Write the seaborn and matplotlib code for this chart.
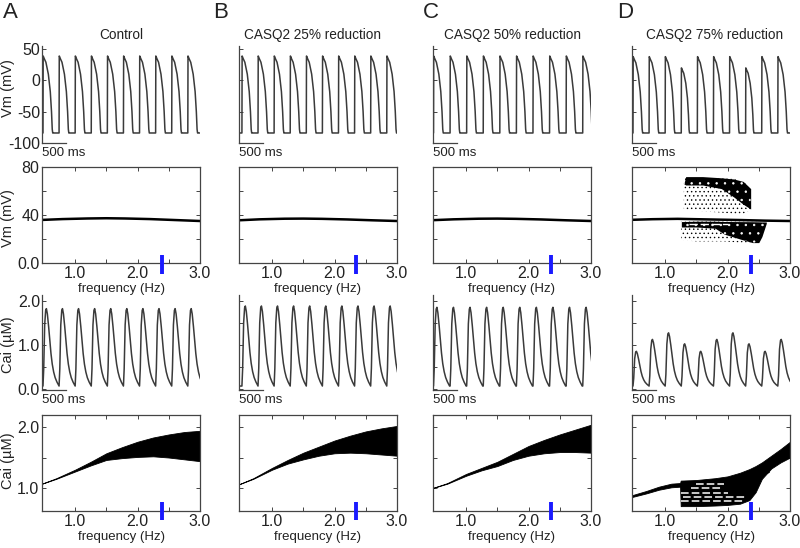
import numpy as np
import matplotlib
matplotlib.use("Agg")
import matplotlib.pyplot as plt
import seaborn as sns

# ---- data ----
col_titles = ["Control", "CASQ2 25% reduction", "CASQ2 50% reduction", "CASQ2 75% reduction"]
panel_letters = ["A", "B", "C", "D"]

# single-beat templates (ms from upstroke)
ap_t = [0, 4, 10, 25, 60, 110, 150, 175, 190, 200, 212]
ap_v = [-84, 39, 38, 35, 29, 10, -18, -50, -78, -84, -84]
ap_rest = -84
ca_t = [0, 15, 35, 55, 70, 90, 116, 140, 164, 190, 219, 250, 287, 330]
ca_v = [0.06, 0.45, 1.45, 1.78, 1.82, 1.70, 1.41, 1.10, 0.80, 0.56, 0.38, 0.25, 0.15, 0.06]
ca_rest = 0.06

# per-column pacing (ms): first upstroke, cycle length
beat_offset = [20, 60, 10, 20]
cycle_len = [330, 330, 340, 330]
trace_end = 3240

vm_peaks = [
    [39, 39, 39, 39, 39, 39, 39, 39, 39, 39],
    [39, 39, 39, 39, 39, 39, 39, 39, 39, 39],
    [39, 39, 39, 39, 39, 39, 39, 39, 39, 39],
    [38, 38, 38, 20, 38, 38, 38, 20, 38, 38],
]
cai_peaks = [
    [1.82, 1.82, 1.82, 1.82, 1.82, 1.82, 1.82, 1.82, 1.82, 1.82],
    [1.88, 1.88, 1.88, 1.88, 1.88, 1.88, 1.88, 1.88, 1.88, 1.88],
    [1.85, 1.85, 1.85, 1.85, 1.85, 1.85, 1.85, 1.85, 1.85, 1.85],
    [0.85, 1.12, 1.27, 1.02, 0.85, 1.12, 1.27, 1.02, 0.85, 1.12],
]

# bifurcation diagrams: Vm peak vs pacing frequency
vm_freq = [0.47, 0.8, 1.2, 1.5, 1.8, 2.2, 2.6, 3.0]
vm_bif = [
    [35.9, 36.6, 37.1, 37.3, 37.1, 36.6, 35.8, 35.0],
    [35.6, 36.4, 36.9, 37.0, 36.8, 36.3, 35.6, 35.0],
    [35.7, 36.4, 36.9, 37.0, 36.8, 36.3, 35.6, 35.0],
    [36.0, 36.5, 36.8, 36.5, 36.2, 35.8, 35.3, 35.0],
]
# CASQ2 75%: scattered Vm peaks above / below the main branch
cloud_up_f = [1.30, 1.33, 1.6, 1.9, 2.1, 2.25, 2.37]
cloud_up_top = [66, 72, 72, 71, 70, 68, 62]
cloud_up_dense = [66, 65, 65, 62, 55, 49, 45]
cloud_up_sparse = [44, 44, 43, 42, 41, 41, 44]
cloud_lo_f = [1.26, 1.5, 1.8, 1.95, 2.2, 2.4, 2.5, 2.55, 2.62]
cloud_lo_top = [34.5, 34.8, 34.8, 34.6, 34.5, 34.4, 34.3, 34.2, 34.2]
cloud_lo_dense = [30, 30, 29, 24, 20, 17, 17, 22, 33]
cloud_lo_sparse = [19, 18, 18, 18, 17, 17, 17, 22, 33]
vm_gap_f = [1.38, 2.01]
vm_gap_v = [32.5, 32.5]

# bifurcation diagrams: Cai peak vs pacing frequency (band edges)
cai_freq = [0.47, 0.7, 1.0, 1.25, 1.5, 1.75, 2.0, 2.25, 2.5, 2.75, 3.0]
cai_hi = [
    [1.07, 1.16, 1.30, 1.43, 1.57, 1.67, 1.76, 1.83, 1.88, 1.92, 1.94],
    [1.06, 1.16, 1.33, 1.46, 1.58, 1.68, 1.78, 1.86, 1.93, 1.98, 2.02],
    [1.00, 1.08, 1.23, 1.33, 1.43, 1.56, 1.69, 1.79, 1.88, 1.96, 2.04],
]
cai_lo = [
    [1.07, 1.15, 1.27, 1.37, 1.46, 1.49, 1.51, 1.52, 1.50, 1.47, 1.44],
    [1.06, 1.15, 1.30, 1.40, 1.47, 1.53, 1.57, 1.58, 1.57, 1.55, 1.53],
    [1.00, 1.07, 1.20, 1.29, 1.36, 1.46, 1.53, 1.57, 1.59, 1.59, 1.58],
]
cai_d_f = [0.47, 0.7, 0.9, 1.1, 1.24, 1.25, 1.5, 1.8, 2.0, 2.2, 2.35, 2.45, 2.55, 2.7, 2.85, 3.0]
cai_d_hi = [0.88, 0.95, 1.02, 1.07, 1.08, 1.12, 1.13, 1.16, 1.19, 1.25, 1.31, 1.36, 1.42, 1.53, 1.64, 1.76]
cai_d_lo = [0.85, 0.91, 0.97, 1.01, 1.02, 0.70, 0.70, 0.71, 0.72, 0.74, 0.80, 0.93, 1.15, 1.32, 1.42, 1.50]
# white gaps between branches inside the CASQ2 75% band
gap_f = [[1.41, 1.89], [1.26, 2.0], [1.29, 2.3], [1.26, 2.25], [1.5, 1.95]]
gap_v = [1.005, 0.92, 0.845, 0.79, 1.06]
tongue_f = [2.45, 2.66]
tongue_v = [1.22, 1.26]

# pacing rate marker (blue tick)
pace_freq = [2.39, 2.34, 2.36, 2.37]
pace_vm = [-9, 7]
pace_cai = [0.48, 0.76]

# ---- layout (pixels of the 800x548 figure) ----
W, H = 800, 548
col_left = [42, 239, 433, 632]
col_w = 158
row_top = [46, 167, 295, 415]
row_bot = [143, 263, 390, 511]
title_x = [121, 312, 512, 715]
letter_x = [3, 213, 423, 617]

TXT = "#222222"
LINE = "#3a3a3a"
BLUE = "#1a1aff"
TICK_FS = 11.5
LAB_FS = 9.5


def build_trace(tmpl_t, tmpl_v, rest, offset, cycle, peaks, peak_ref, scale_time):
    t, v = [0.0], [rest]
    for i, pk in enumerate(peaks):
        s = (pk - rest) / (peak_ref - rest)
        st = s if scale_time else 1.0
        start = offset + i * cycle
        for tt, vv in zip(tmpl_t, tmpl_v):
            t.append(start + tt * st)
            v.append(rest + (vv - rest) * s)
    t.append(offset + len(peaks) * cycle + cycle)
    v.append(rest)
    return np.array(t), np.array(v)


def add_ax(ci, ri):
    l, t, b = col_left[ci], row_top[ri], row_bot[ri]
    return fig.add_axes([l / W, 1 - b / H, col_w / W, (b - t) / H])


def ftext(x, y, s, **kw):
    fig.text(x / W, 1 - y / H, s, color=TXT, **kw)


def speckle(ax, f, lo, hi, dense):
    # dense: black with a few white specks; sparse: scattered black dots
    if dense:
        ax.fill_between(f, lo, hi, color="black", lw=0)
        ax.fill_between(f, lo, hi, facecolor="none", edgecolor="white", lw=0, hatch="..")
    else:
        ax.fill_between(f, lo, hi, facecolor="none", edgecolor="black", lw=0, hatch="....")


def style_spines(ax):
    for sp in ax.spines.values():
        sp.set_color("#444444")
        sp.set_linewidth(0.9)
    ax.set_xlabel("")
    ax.set_ylabel("")


def trace_axes(ax, yticks, ylabels, ylim, show):
    ax.set_xlim(0, trace_end)
    ax.set_ylim(*ylim)
    for side in ["top", "right"]:
        ax.spines[side].set_visible(False)
    ax.spines["bottom"].set_bounds(0, 500)
    ax.set_xticks([])
    ax.set_yticks(yticks)
    ax.set_yticklabels(ylabels if show else [""] * len(yticks))
    ax.tick_params(axis="y", direction="in", length=3, width=0.7, pad=1.5,
                   labelsize=TICK_FS, labelcolor=TXT, color="#444444")
    style_spines(ax)


def bif_axes(ax, ylim, ymaj, ymin, ylabels, show):
    ax.set_xlim(0.47, 3.0)
    ax.set_ylim(*ylim)
    ax.set_xticks([1.0, 2.0, 3.0])
    ax.set_xticklabels(["1.0", "2.0", "3.0"])
    ax.set_xticks([1.5, 2.5], minor=True)
    ax.set_yticks(ymaj)
    ax.set_yticklabels(ylabels if show else [""] * len(ymaj))
    ax.set_yticks(ymin, minor=True)
    ax.tick_params(which="both", direction="in", length=3, width=0.7,
                   top=True, right=True, labelsize=TICK_FS, labelcolor=TXT,
                   color="#444444")
    ax.tick_params(axis="x", pad=2.5)
    ax.tick_params(axis="y", pad=2)
    style_spines(ax)


sns.set_theme(style="ticks")
plt.rcParams["font.family"] = ["Liberation Sans", "DejaVu Sans"]
plt.rcParams["hatch.linewidth"] = 0.5

fig = plt.figure(figsize=(W / 100, H / 100), dpi=100)
fig.patch.set_facecolor("white")

for ci in range(4):
    show = ci == 0

    # row 1: membrane potential trace
    ax = add_ax(ci, 0)
    t, v = build_trace(ap_t, ap_v, ap_rest, beat_offset[ci], cycle_len[ci],
                       vm_peaks[ci], 39, True)
    sns.lineplot(x=t, y=v, ax=ax, color=LINE, lw=1.1, estimator=None, sort=False)
    trace_axes(ax, [-100, -50, 0, 50], ["-100", "-50", "0", "50"], (-100, 55), show)
    ftext(col_left[ci], 153, "500 ms", fontsize=LAB_FS, ha="left", va="center")

    # row 2: Vm bifurcation
    ax = add_ax(ci, 1)
    if ci == 3:
        speckle(ax, cloud_up_f, cloud_up_sparse, cloud_up_top, False)
        speckle(ax, cloud_up_f, cloud_up_dense, cloud_up_top, True)
        speckle(ax, cloud_lo_f, cloud_lo_sparse, cloud_lo_top, False)
        speckle(ax, cloud_lo_f, cloud_lo_dense, cloud_lo_top, True)
        ax.plot(vm_gap_f, vm_gap_v, color="white", lw=1.0, ls=(0, (6, 2)))
    sns.lineplot(x=vm_freq, y=vm_bif[ci], ax=ax, color="black", lw=1.8,
                 estimator=None, sort=False)
    ax.plot([pace_freq[ci]] * 2, pace_vm, color=BLUE, lw=2.8, clip_on=False,
            solid_capstyle="butt", zorder=5)
    bif_axes(ax, (0, 80), [0, 40, 80], [20, 60], ["0.0", "40", "80"], show)
    ftext(col_left[ci] + col_w / 2, 289, "frequency (Hz)", fontsize=LAB_FS,
          ha="center", va="center")

    # row 3: Cai trace
    ax = add_ax(ci, 2)
    t, v = build_trace(ca_t, ca_v, ca_rest, beat_offset[ci], cycle_len[ci],
                       cai_peaks[ci], 1.82, False)
    sns.lineplot(x=t, y=v, ax=ax, color=LINE, lw=1.1, estimator=None, sort=False)
    trace_axes(ax, [0, 0.5, 1.0, 1.5, 2.0], ["0.0", "", "1.0", "", "2.0"],
               (-0.03, 2.13), show)
    ftext(col_left[ci], 400, "500 ms", fontsize=LAB_FS, ha="left", va="center")

    # row 4: Cai bifurcation
    ax = add_ax(ci, 3)
    if ci < 3:
        ax.fill_between(cai_freq, cai_lo[ci], cai_hi[ci], color="black", lw=0.6)
    else:
        ax.fill_between(cai_d_f, cai_d_lo, cai_d_hi, color="black", lw=0.6)
        for gf, gv in zip(gap_f, gap_v):
            ax.plot(gf, [gv, gv], color="white", lw=1.1, ls=(0, (5, 2)))
        ax.plot(tongue_f, tongue_v, color="black", lw=1.6)
    ax.plot([pace_freq[ci]] * 2, pace_cai, color=BLUE, lw=2.8, clip_on=False,
            solid_capstyle="butt", zorder=5)
    bif_axes(ax, (0.62, 2.2), [1.0, 2.0], [1.5], ["1.0", "2.0"], show)
    ftext(col_left[ci] + col_w / 2, 537, "frequency (Hz)", fontsize=LAB_FS,
          ha="center", va="center")

    ftext(letter_x[ci], 12, panel_letters[ci], fontsize=16, ha="left", va="center")
    ftext(title_x[ci], 35, col_titles[ci], fontsize=LAB_FS + 0.3, ha="center", va="center")

ftext(8, 88, "Vm (mV)", fontsize=10.5, rotation=90, ha="center", va="center")
ftext(8, 218, "Vm (mV)", fontsize=10.5, rotation=90, ha="center", va="center")
ftext(8, 345, "Cai (\u00b5M)", fontsize=10.5, rotation=90, ha="center", va="center")
ftext(8, 461, "Cai (\u00b5M)", fontsize=10.5, rotation=90, ha="center", va="center")

fig.savefig("out.png", dpi=100, facecolor="white")
